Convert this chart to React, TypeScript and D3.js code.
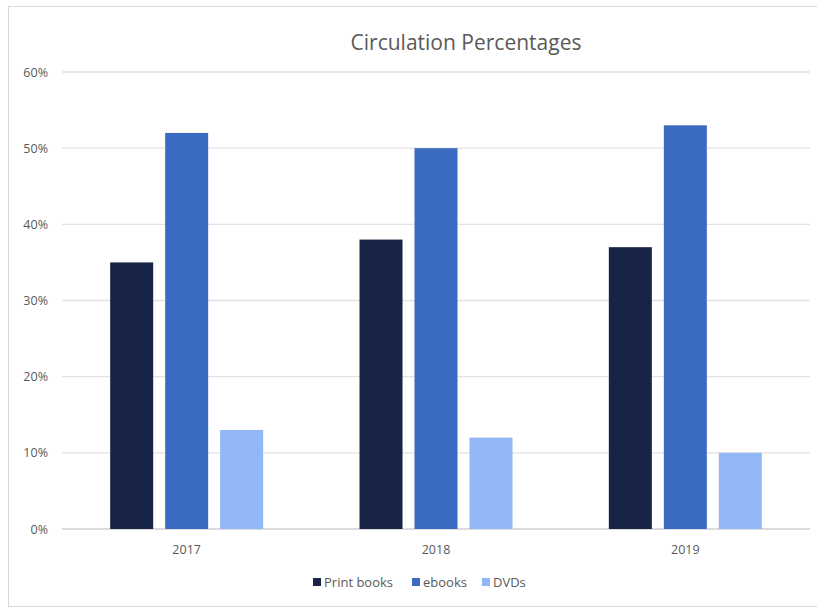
import React from "react";
import * as d3 from "d3";

const years = ["2017", "2018", "2019"];
const seriesNames = ["Print books", "ebooks", "DVDs"];
const printBooks = [35, 38, 37];
const ebooks = [52, 50, 53];
const dvds = [13, 12, 10];
const yTicks = [0, 10, 20, 30, 40, 50, 60];
const colors = ["#172445", "#3a6bc0", "#91b7f6"];

const W = 817;
const H = 609;
const margin = { left: 62, right: 7, top: 72, bottom: 80 };
const font = "'Open Sans', 'Noto Sans', sans-serif";

export default function App() {
  const values = [printBooks, ebooks, dvds];
  const x0 = d3
    .scaleBand<string>()
    .domain(years)
    .range([margin.left, W - margin.right])
    .paddingInner(0)
    .paddingOuter(0);
  const x1 = d3
    .scaleBand<string>()
    .domain(seriesNames)
    .range([0, x0.bandwidth()])
    .paddingInner(0.218)
    .paddingOuter(0.876);
  const y = d3.scaleLinear().domain([0, 60]).range([529, 72]);

  const legendX = [313, 412, 482];

  return (
    <svg
      width={W}
      height={H}
      style={{ position: "absolute", left: 0, top: 0, background: "#fff" }}
    >
      <rect x={8.5} y={6.5} width={W} height={600} fill="#fff" stroke="#d9d9d9" />
      <text
        x={466}
        y={50}
        textAnchor="middle"
        fontFamily={font}
        fontSize={21}
        fill="#595959"
      >
        Circulation Percentages
      </text>
      {yTicks.map((t) => (
        <g key={t}>
          <line
            x1={margin.left}
            x2={W - margin.right}
            y1={y(t)}
            y2={y(t)}
            stroke={t === 0 ? "#d0d0d0" : "#e2e2e2"}
            strokeWidth={1.3}
          />
          <text
            x={48}
            y={y(t) + 4.5}
            textAnchor="end"
            fontFamily={font}
            fontSize={12.5}
            fill="#595959"
          >
            {t}%
          </text>
        </g>
      ))}
      {years.map((yr, i) => (
        <g key={yr} transform={`translate(${x0(yr)},0)`}>
          {seriesNames.map((s, j) => (
            <rect
              key={s}
              x={x1(s)}
              width={x1.bandwidth()}
              y={y(values[j][i])}
              height={y(0) - y(values[j][i])}
              fill={colors[j]}
            />
          ))}
          <text
            x={x0.bandwidth() / 2}
            y={554}
            textAnchor="middle"
            fontFamily={font}
            fontSize={12.5}
            fill="#595959"
          >
            {yr}
          </text>
        </g>
      ))}
      {seriesNames.map((s, j) => (
        <g key={s} transform={`translate(${legendX[j]},578)`}>
          <rect x={0} y={0} width={8} height={8} fill={colors[j]} />
          <text x={11} y={8.5} fontFamily={font} fontSize={13} fill="#595959">
            {s}
          </text>
        </g>
      ))}
    </svg>
  );
}
